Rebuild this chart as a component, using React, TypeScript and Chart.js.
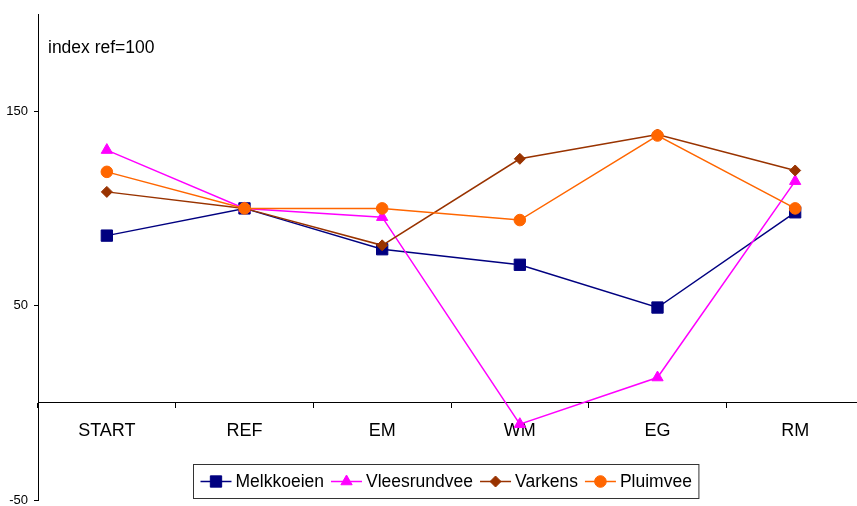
import React, { useEffect, useRef } from 'react';
import { Chart, registerables } from 'chart.js';

Chart.register(...registerables);

const categories = ['START', 'REF', 'EM', 'WM', 'EG', 'RM'];
const melkkoeien = [86, 100, 79, 71, 49, 98];
const vleesrundvee = [130, 100, 95.5, -11, 13, 114];
const varkens = [108.5, 100, 81, 125.5, 138, 119.5];
const pluimvee = [118.8, 100, 100, 94, 137.5, 100];
const seriesNames = ['Melkkoeien', 'Vleesrundvee', 'Varkens', 'Pluimvee'];
const yTicks = [-50, 50, 150];
const yMin = -50;
const yMax = 200;
const axisNote = 'index ref=100';

const FONT = '"Liberation Sans", Arial, Helvetica, sans-serif';

function drawMarker(ctx: CanvasRenderingContext2D, style: string, x: number, y: number, r: number, color: string) {
  ctx.beginPath();
  if (style === 'rect') {
    const s = r * Math.SQRT1_2;
    ctx.rect(x - s, y - s, 2 * s, 2 * s);
  } else if (style === 'triangle') {
    ctx.moveTo(x, y - r);
    ctx.lineTo(x + r * 0.866, y + r / 2);
    ctx.lineTo(x - r * 0.866, y + r / 2);
    ctx.closePath();
  } else if (style === 'rectRot') {
    ctx.moveTo(x - r, y);
    ctx.lineTo(x, y - r);
    ctx.lineTo(x + r, y);
    ctx.lineTo(x, y + r);
    ctx.closePath();
  } else {
    ctx.arc(x, y, r, 0, Math.PI * 2);
  }
  ctx.fillStyle = color;
  ctx.fill();
  ctx.strokeStyle = color;
  ctx.lineWidth = 1;
  ctx.stroke();
}

const boxLegend = {
  id: 'boxLegend',
  afterDraw(chart: any) {
    const ctx: CanvasRenderingContext2D = chart.ctx;
    ctx.save();
    ctx.font = `17.5px ${FONT}`;
    const items = chart.data.datasets.map((ds: any) => ({
      label: ds.label,
      color: ds.borderColor,
      style: ds.pointStyle,
      r: ds.pointRadius,
      w: ctx.measureText(ds.label).width,
    }));
    const lineW = 31;
    const gapText = 4;
    const gapItem = 7;
    const padX = 7;
    const total =
      padX * 2 +
      items.reduce((s: number, it: any) => s + lineW + gapText + it.w, 0) +
      gapItem * (items.length - 1);
    const cx = 445.5;
    const top = chart.chartArea.bottom - 36;
    const h = 34;
    const left = Math.round(cx - total / 2) + 0.5;
    ctx.fillStyle = '#ffffff';
    ctx.fillRect(left, top + 0.5, total, h);
    ctx.strokeStyle = '#333333';
    ctx.lineWidth = 1;
    ctx.strokeRect(left, top + 0.5, total, h);
    const cy = top + 0.5 + h / 2;
    let x = left + padX;
    items.forEach((it: any) => {
      ctx.beginPath();
      ctx.moveTo(x, cy);
      ctx.lineTo(x + lineW, cy);
      ctx.strokeStyle = it.color;
      ctx.lineWidth = 1.5;
      ctx.stroke();
      drawMarker(ctx, it.style, x + lineW / 2, cy, it.r, it.color);
      ctx.fillStyle = '#000';
      ctx.textBaseline = 'middle';
      ctx.textAlign = 'left';
      ctx.fillText(it.label, x + lineW + gapText, cy + 1);
      x += lineW + gapText + it.w + gapItem;
    });
    ctx.restore();
  },
};

const notePlugin = {
  id: 'notePlugin',
  afterDraw(chart: any) {
    const ctx: CanvasRenderingContext2D = chart.ctx;
    ctx.save();
    ctx.font = `17.5px ${FONT}`;
    ctx.fillStyle = '#000';
    ctx.textBaseline = 'alphabetic';
    ctx.textAlign = 'left';
    ctx.fillText(axisNote, chart.chartArea.left + 10, chart.chartArea.top + 39);
    ctx.restore();
  },
};

export default function App() {
  const ref = useRef<HTMLCanvasElement>(null);

  useEffect(() => {
    if (!ref.current) return;
    Chart.defaults.font.family = FONT;
    const chart = new Chart(ref.current, {
      type: 'line',
      data: {
        labels: categories,
        datasets: [
          {
            label: seriesNames[0],
            data: melkkoeien,
            borderColor: '#000080',
            backgroundColor: '#000080',
            pointStyle: 'rect',
            pointRadius: 8,
            pointBorderWidth: 1,
            order: 3,
          },
          {
            label: seriesNames[1],
            data: vleesrundvee,
            borderColor: '#FF00FF',
            backgroundColor: '#FF00FF',
            pointStyle: 'triangle',
            pointRadius: 6.5,
            pointBorderWidth: 1,
            order: 2,
          },
          {
            label: seriesNames[2],
            data: varkens,
            borderColor: '#993300',
            backgroundColor: '#993300',
            pointStyle: 'rectRot',
            pointRadius: 5.5,
            pointBorderWidth: 1,
            order: 1,
          },
          {
            label: seriesNames[3],
            data: pluimvee,
            borderColor: '#FF6600',
            backgroundColor: '#FF6600',
            pointStyle: 'circle',
            pointRadius: 5.8,
            pointBorderWidth: 1,
            order: 0,
          },
        ],
      },
      options: {
        animation: false,
        responsive: false,
        events: [],
        layout: { autoPadding: false, padding: { top: 14, bottom: 6, left: 0, right: 0 } },
        elements: { line: { tension: 0, borderWidth: 1.5, fill: false } },
        plugins: {
          legend: { display: false },
          tooltip: { enabled: false },
          title: { display: false },
        },
        scales: {
          x: {
            type: 'category',
            position: { y: 0 } as any,
            offset: true,
            afterFit: (s: any) => {
              s.paddingLeft = 0;
              s.paddingRight = 0;
              s.paddingTop = 0;
              s.paddingBottom = 0;
            },
            grid: {
              offset: true,
              drawOnChartArea: false,
              drawTicks: true,
              tickLength: 5,
              color: '#000',
            },
            border: { color: '#000', width: 1 },
            ticks: {
              color: '#000',
              font: { size: 18, family: FONT },
              padding: 12,
              maxRotation: 0,
              autoSkip: false,
            },
          },
          y: {
            type: 'linear',
            position: 'left',
            min: yMin,
            max: yMax,
            afterBuildTicks: (s: any) => {
              s.ticks = yTicks.map((v) => ({ value: v }));
            },
            afterFit: (s: any) => {
              s.width = 38;
              s.paddingTop = 0;
              s.paddingBottom = 0;
            },
            grid: {
              drawOnChartArea: false,
              drawTicks: true,
              tickLength: 4,
              color: '#000',
            },
            border: { color: '#000', width: 1 },
            ticks: {
              color: '#000',
              font: { size: 13, family: FONT },
              padding: 6,
            },
          },
        },
      },
      plugins: [notePlugin, boxLegend],
    });
    return () => chart.destroy();
  }, []);

  return (
    <div
      style={{
        position: 'fixed',
        left: 0,
        top: 0,
        width: 857,
        height: 506,
        overflow: 'hidden',
        background: '#fff',
      }}
    >
      <canvas ref={ref} width={864} height={506} style={{ display: 'block', width: 864, height: 506 }} />
    </div>
  );
}
